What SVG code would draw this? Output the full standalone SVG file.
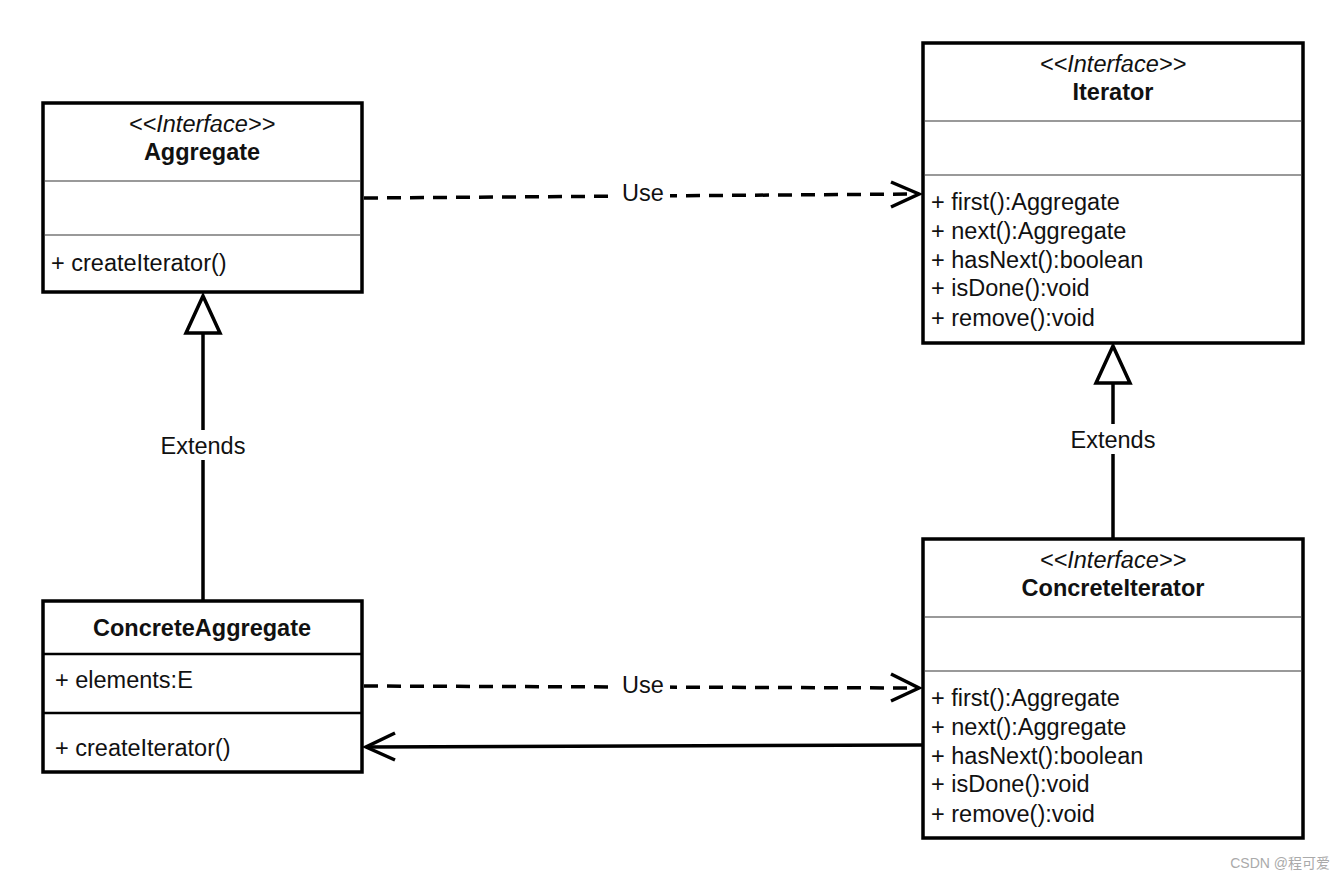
<svg xmlns="http://www.w3.org/2000/svg" width="1344" height="880" viewBox="0 0 1344 880">
<style>
  text { font-family: "Liberation Sans", Arial, sans-serif; font-size: 23.5px; fill: #111; }
  .c { text-anchor: middle; }
  .st { font-style: italic; }
  .b { font-weight: bold; }
  .box { fill: #fff; stroke: #000; stroke-width: 3.5; }
  .sep { stroke: #999; stroke-width: 2; }
  .sepb { stroke: #000; stroke-width: 2.5; }
  .ln { fill: none; stroke: #000; stroke-width: 3.5; }
  .dash { fill: none; stroke: #000; stroke-width: 3.5; stroke-dasharray: 14 9; }
  .lbl { font-size: 23.5px; }
  .wm { font-family: "Liberation Sans", "Noto Sans CJK SC", sans-serif; font-size: 14px; fill: #aaa; }
</style>
<rect width="1344" height="880" fill="#fff"/>

<g id="connectors">
  <!-- Aggregate uses Iterator -->
  <path class="dash" d="M364 198 L918 194"/>
  <path class="ln" d="M891 182 L919 194 L891 207"/>
  <rect x="616" y="180" width="54" height="28" fill="#fff"/>
  <text class="c lbl" x="643" y="201">Use</text>

  <!-- ConcreteAggregate uses ConcreteIterator -->
  <path class="dash" d="M364 686 L918 688"/>
  <path class="ln" d="M891 674 L919 688 L891 701"/>
  <rect x="616" y="672" width="54" height="28" fill="#fff"/>
  <text class="c lbl" x="643" y="693">Use</text>

  <!-- ConcreteIterator to ConcreteAggregate -->
  <path class="ln" d="M922 745 L366 747"/>
  <path class="ln" d="M395 733 L366 747 L395 760"/>

  <!-- Extends left -->
  <path class="ln" d="M203 600 L203 333"/>
  <path d="M203 296 L220 333 L186 333 Z" fill="#fff" stroke="#000" stroke-width="3.5" stroke-linejoin="miter"/>
  <rect x="158" y="430" width="90" height="30" fill="#fff"/>
  <text class="c lbl" x="203" y="454">Extends</text>

  <!-- Extends right -->
  <path class="ln" d="M1113 539 L1113 383"/>
  <path d="M1113 346 L1130 383 L1096 383 Z" fill="#fff" stroke="#000" stroke-width="3.5" stroke-linejoin="miter"/>
  <rect x="1068" y="424" width="90" height="30" fill="#fff"/>
  <text class="c lbl" x="1113" y="448">Extends</text>
</g>

<g id="Aggregate">
  <rect class="box" x="43" y="103" width="319" height="189"/>
  <line class="sep" x1="45" y1="181" x2="360" y2="181"/>
  <line class="sep" x1="45" y1="235" x2="360" y2="235"/>
  <text class="c st" x="202" y="132">&lt;&lt;Interface&gt;&gt;</text>
  <text class="c b" x="202" y="160">Aggregate</text>
  <text x="51" y="271">+ createIterator()</text>
</g>

<g id="Iterator">
  <rect class="box" x="923" y="43" width="380" height="300"/>
  <line class="sep" x1="925" y1="121" x2="1301" y2="121"/>
  <line class="sep" x1="925" y1="175" x2="1301" y2="175"/>
  <text class="c st" x="1113" y="72">&lt;&lt;Interface&gt;&gt;</text>
  <text class="c b" x="1113" y="100">Iterator</text>
  <text x="931" y="210">+ first():Aggregate</text>
  <text x="931" y="239">+ next():Aggregate</text>
  <text x="931" y="268">+ hasNext():boolean</text>
  <text x="931" y="296">+ isDone():void</text>
  <text x="931" y="326">+ remove():void</text>
</g>

<g id="ConcreteAggregate">
  <rect class="box" x="43" y="601" width="319" height="171"/>
  <line class="sepb" x1="43" y1="654" x2="362" y2="654"/>
  <line class="sepb" x1="43" y1="713" x2="362" y2="713"/>
  <text class="c b" x="202" y="636">ConcreteAggregate</text>
  <text x="55" y="688">+ elements:E</text>
  <text x="55" y="756">+ createIterator()</text>
</g>

<g id="ConcreteIterator">
  <rect class="box" x="923" y="539" width="380" height="299"/>
  <line class="sep" x1="925" y1="617" x2="1301" y2="617"/>
  <line class="sep" x1="925" y1="671" x2="1301" y2="671"/>
  <text class="c st" x="1113" y="568">&lt;&lt;Interface&gt;&gt;</text>
  <text class="c b" x="1113" y="596">ConcreteIterator</text>
  <text x="931" y="706">+ first():Aggregate</text>
  <text x="931" y="735">+ next():Aggregate</text>
  <text x="931" y="764">+ hasNext():boolean</text>
  <text x="931" y="792">+ isDone():void</text>
  <text x="931" y="822">+ remove():void</text>
</g>

<text class="wm" x="1330" y="868" text-anchor="end">CSDN @程可爱</text>
</svg>
